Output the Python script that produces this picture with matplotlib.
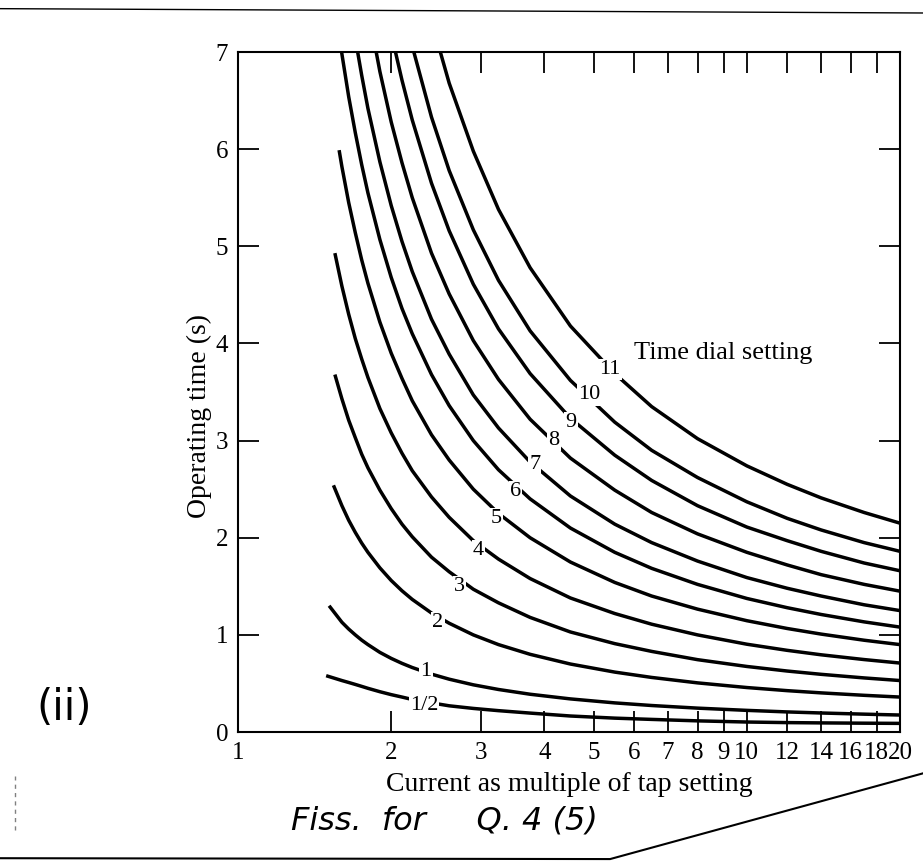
import numpy as np
import matplotlib.pyplot as plt
from matplotlib.lines import Line2D

plt.rcParams['font.family'] = ['Liberation Serif', 'DejaVu Serif']

nan = np.nan

# current as multiple of tap setting, shared by all curves
multiples = [1.6, 1.65, 1.7, 1.75, 1.8, 1.9, 2.0, 2.1, 2.2, 2.4, 2.6, 2.9, 3.25, 3.75,
             4.5, 5.5, 6.5, 8, 10, 12, 14, 17, 20]

dial_settings = ['1/2', '1', '2', '3', '4', '5', '6', '7', '8', '9', '10', '11']

# left end of each curve (None where the curve runs off the top)
start_x = [1.49, 1.51, 1.54, 1.55, 1.55, 1.58, 1.55, None, None, None, None, None]
start_t = [0.58, 1.30, 2.54, 3.68, 4.93, 5.99, 7.50, None, None, None, None, None]

# operating time (s) at each multiple
times = {
    '1/2': [0.53, 0.51, 0.49, 0.47, 0.45, 0.415, 0.385, 0.36, 0.335, 0.30, 0.27, 0.243, 0.22, 0.195,
            0.165, 0.143, 0.13, 0.115, 0.103, 0.097, 0.094, 0.091, 0.089],
    '1': [1.13, 1.06, 1.00, 0.946, 0.90, 0.82, 0.758, 0.707, 0.664, 0.596, 0.544, 0.486, 0.438, 0.389,
          0.341, 0.30, 0.273, 0.246, 0.223, 0.207, 0.196, 0.184, 0.175],
    '2': [2.33, 2.18, 2.055, 1.945, 1.85, 1.69, 1.56, 1.454, 1.365, 1.225, 1.12, 1.00, 0.90, 0.80,
          0.70, 0.617, 0.562, 0.506, 0.458, 0.426, 0.403, 0.378, 0.36],
    '3': [3.43, 3.21, 3.03, 2.86, 2.72, 2.49, 2.30, 2.14, 2.01, 1.80, 1.65, 1.47, 1.33, 1.18,
          1.03, 0.91, 0.83, 0.745, 0.675, 0.628, 0.594, 0.557, 0.53],
    '4': [4.59, 4.30, 4.05, 3.84, 3.65, 3.33, 3.08, 2.87, 2.69, 2.42, 2.21, 1.97, 1.78, 1.58,
          1.38, 1.22, 1.11, 1.00, 0.904, 0.841, 0.795, 0.746, 0.71],
    '5': [5.82, 5.45, 5.14, 4.86, 4.62, 4.22, 3.90, 3.64, 3.41, 3.06, 2.80, 2.50, 2.25, 2.00,
          1.75, 1.54, 1.40, 1.265, 1.146, 1.066, 1.008, 0.945, 0.90],
    '6': [6.98, 6.54, 6.17, 5.84, 5.55, 5.07, 4.68, 4.36, 4.10, 3.68, 3.36, 3.00, 2.70, 2.40,
          2.10, 1.85, 1.685, 1.52, 1.375, 1.28, 1.21, 1.134, 1.08],
    '7': [nan, 7.57, 7.14, 6.76, 6.42, 5.87, 5.42, 5.05, 4.74, 4.25, 3.89, 3.47, 3.13, 2.78,
          2.43, 2.14, 1.95, 1.76, 1.59, 1.48, 1.40, 1.31, 1.25],
    '8': [nan, nan, nan, nan, 7.45, 6.80, 6.28, 5.86, 5.50, 4.93, 4.51, 4.03, 3.63, 3.22,
          2.82, 2.49, 2.26, 2.04, 1.85, 1.72, 1.62, 1.52, 1.45],
    '9': [nan, nan, nan, nan, nan, 7.79, 7.19, 6.71, 6.30, 5.65, 5.16, 4.61, 4.15, 3.69,
          3.23, 2.85, 2.59, 2.33, 2.11, 1.97, 1.86, 1.74, 1.66],
    '10': [nan, nan, nan, nan, nan, nan, nan, 7.51, 7.06, 6.33, 5.78, 5.17, 4.65, 4.13,
           3.62, 3.19, 2.90, 2.62, 2.37, 2.20, 2.08, 1.95, 1.86],
    '11': [nan, nan, nan, nan, nan, nan, nan, nan, nan, 7.32, 6.68, 5.98, 5.38, 4.78,
           4.18, 3.69, 3.35, 3.02, 2.74, 2.55, 2.41, 2.26, 2.15],
}

# where each dial number sits on its curve
label_x = [2.32, 2.34, 2.47, 2.72, 2.97, 3.22, 3.51, 3.83, 4.18, 4.51, 4.90, 5.39]
label_y = [0.27, 0.62, 1.13, 1.50, 1.87, 2.20, 2.48, 2.75, 3.00, 3.19, 3.47, 3.73]

x_ticks = [1, 2, 3, 4, 5, 6, 7, 8, 9, 10, 12, 14, 16, 18, 20]
y_ticks = [0, 1, 2, 3, 4, 5, 6, 7]

fig = plt.figure(figsize=(9.23, 8.66), dpi=100)
ax = fig.add_axes([0.2579, 0.1547, 0.7172, 0.7852])

for i, name in enumerate(dial_settings):
    xs = list(multiples)
    ts = list(times[name])
    if start_x[i] is not None:
        xs = [start_x[i]] + xs
        ts = [start_t[i]] + ts
    ax.plot(xs, ts, color='black', lw=2.5, solid_capstyle='butt')
    ax.text(label_x[i], label_y[i], name, fontsize=16, ha='center', va='center',
            bbox=dict(facecolor='white', edgecolor='none', pad=0.8))

ax.text(6.0, 3.9, 'Time dial setting', fontsize=19, ha='left', va='center')

ax.set_xscale('log')
ax.set_xlim(1, 20)
ax.set_ylim(0, 7)
ax.set_xticks(x_ticks)
ax.set_xticklabels([str(v) for v in x_ticks])
ax.xaxis.set_minor_locator(plt.NullLocator())
ax.set_yticks(y_ticks)
ax.tick_params(which='both', direction='in', top=True, right=True, length=15, width=1.3,
               labelsize=18, pad=7)
for s in ax.spines.values():
    s.set_linewidth(1.5)

ax.set_xlabel('Current as multiple of tap setting', fontsize=20, labelpad=6)
ax.set_ylabel('Operating time (s)', fontsize=20)
ax.yaxis.set_label_coords(-0.039, 0.465)

# handwritten notes and scan edges
fig.text(0.482, 0.052, 'Fiss.  for     Q. 4 (5)', fontsize=23, style='italic',
         family='DejaVu Sans', ha='center', va='center')
fig.text(0.069, 0.182, '(ii)', fontsize=30, family='DejaVu Sans', ha='center', va='center')
fig.add_artist(Line2D([0, 0.661, 1.0], [0.009, 0.008, 0.107], color='black', lw=1.5))
fig.add_artist(Line2D([0, 1.0], [0.990, 0.985], color='black', lw=1.0))
fig.add_artist(Line2D([0.016, 0.016], [0.041, 0.104], color='gray', lw=1.0, ls=(0, (3, 3))))

fig.savefig('out.png', dpi=100)
plt.close()
